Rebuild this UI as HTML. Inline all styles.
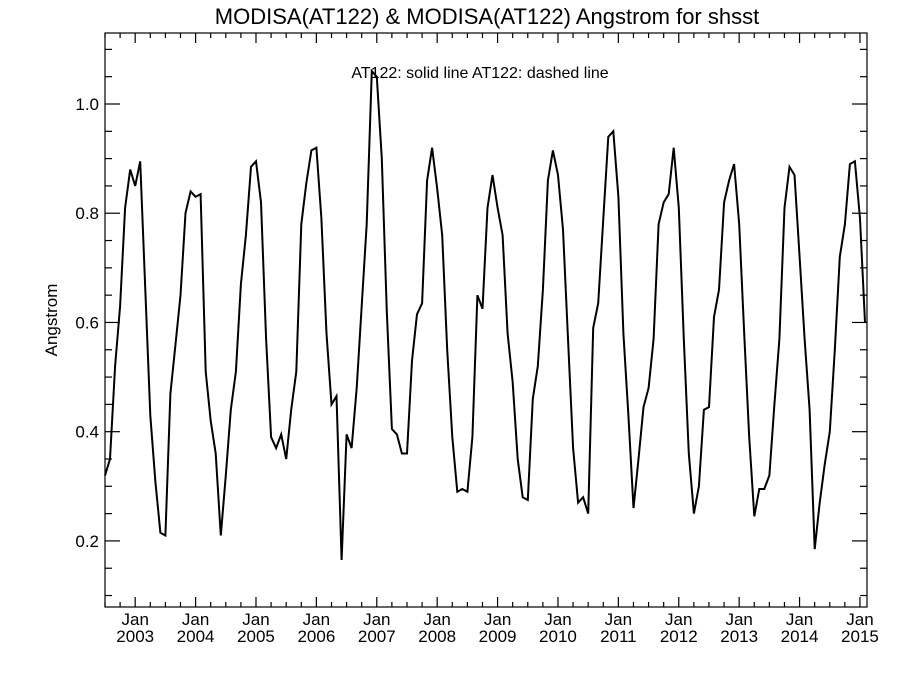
<!DOCTYPE html>
<html><head><meta charset="utf-8"><style>
body{margin:0;background:#fff;}
svg text{font-family:"Liberation Sans",Arial,sans-serif;fill:#000;}
</style></head><body>
<svg id="chart" width="900" height="675" viewBox="0 0 900 675" xmlns="http://www.w3.org/2000/svg">
<rect width="900" height="675" fill="#fff"/>
<text x="487" y="24" font-size="22" text-anchor="middle">MODISA(AT122) &amp; MODISA(AT122)  Angstrom for shsst</text>
<text x="480" y="78" font-size="16" text-anchor="middle">AT122: solid line   AT122: dashed line</text>
<text transform="translate(57,320) rotate(-90)" font-size="17" text-anchor="middle">Angstrom</text>
<g id="axes"></g>
<path id="series" fill="none" stroke="#000" stroke-width="2" stroke-linejoin="miter"/>
</svg>
<script>
const startYear = 2002, startMonth = 7;
const yTicks = [0.2, 0.4, 0.6, 0.8, 1.0];
const yTickLabels = ["0.2", "0.4", "0.6", "0.8", "1.0"];
const xYears = [2003,2004,2005,2006,2007,2008,2009,2010,2011,2012,2013,2014,2015];
const angstrom = [
0.32,0.35,0.52,0.63,0.81,0.88,
0.85,0.895,0.66,0.43,0.31,0.215,0.21,0.47,0.56,0.65,0.80,0.84,
0.83,0.835,0.51,0.42,0.36,0.21,0.32,0.44,0.51,0.67,0.76,0.885,
0.895,0.82,0.57,0.39,0.37,0.395,0.35,0.44,0.51,0.78,0.855,0.915,
0.92,0.79,0.58,0.45,0.465,0.165,0.395,0.37,0.48,0.63,0.78,1.06,
1.05,0.90,0.62,0.405,0.395,0.36,0.36,0.53,0.615,0.635,0.86,0.92,
0.845,0.76,0.55,0.39,0.29,0.295,0.29,0.39,0.65,0.625,0.81,0.87,
0.81,0.76,0.58,0.49,0.35,0.28,0.275,0.46,0.52,0.66,0.86,0.915,
0.87,0.77,0.57,0.37,0.27,0.28,0.25,0.59,0.635,0.79,0.94,0.95,
0.83,0.58,0.43,0.26,0.35,0.445,0.48,0.57,0.78,0.82,0.835,0.92,
0.81,0.57,0.36,0.25,0.30,0.44,0.445,0.61,0.66,0.82,0.86,0.89,
0.78,0.58,0.39,0.245,0.295,0.295,0.32,0.45,0.57,0.81,0.885,0.87,
0.72,0.57,0.44,0.185,0.27,0.34,0.40,0.55,0.72,0.78,0.89,0.895,
0.79,0.60];
const L=105,R=867,T=33,B=607;
const yMin=0.079,yMax=1.13;
const t0=2002+6/12, t1=2015+1.4/12;
const ys=v=>B-(v-yMin)/(yMax-yMin)*(B-T);
const xs=t=>L+(t-t0)/(t1-t0)*(R-L);
const NS="http://www.w3.org/2000/svg";
const ax=document.getElementById('axes');
function mk(tag,attrs,parent){const e=document.createElementNS(NS,tag);for(const k in attrs)e.setAttribute(k,attrs[k]);(parent||ax).appendChild(e);return e;}
const frame=mk('rect',{x:L,y:T,width:R-L,height:B-T,fill:'none',stroke:'#000','stroke-width':1.2});


// y minor ticks
for(let v=0.1;v<=1.1001;v+=0.05){const y=ys(v);const major=Math.abs(v*5-Math.round(v*5))<1e-6;const len=major?15:7;
const a=mk('line',{x1:L,y1:y,x2:L+len,y2:y,stroke:'#000','stroke-width':1.2});


const b=mk('line',{x1:R,y1:y,x2:R-len,y2:y,stroke:'#000','stroke-width':1.2});

}
yTicks.forEach((v,i)=>{const t=mk('text',{x:L-6,y:ys(v)+6,'font-size':17,'text-anchor':'end'});t.textContent=yTickLabels[i];

});
// x ticks quarterly
for(let q=2002.5;q<=t1+1e-6;q+=0.25){const x=xs(q);const major=Math.abs(q-Math.round(q))<1e-6;const len=major?10:5;
const a=mk('line',{x1:x,y1:B,x2:x,y2:B-len,stroke:'#000','stroke-width':1.2});


const b=mk('line',{x1:x,y1:T,x2:x,y2:T+len,stroke:'#000','stroke-width':1.2});

}
xYears.forEach(yr=>{const x=xs(yr);
const t=mk('text',{x:x,y:625,'font-size':17,'text-anchor':'middle'});t.textContent='Jan';


const t2=mk('text',{x:x,y:642,'font-size':17,'text-anchor':'middle'});t2.textContent=String(yr);

});
let d='';
angstrom.forEach((v,i)=>{const t=startYear+(startMonth-1+i)/12;d+=(i?'L':'M')+xs(t).toFixed(1)+' '+ys(v).toFixed(1);});
document.getElementById('series').setAttribute('d',d);
</script>
</body></html>
